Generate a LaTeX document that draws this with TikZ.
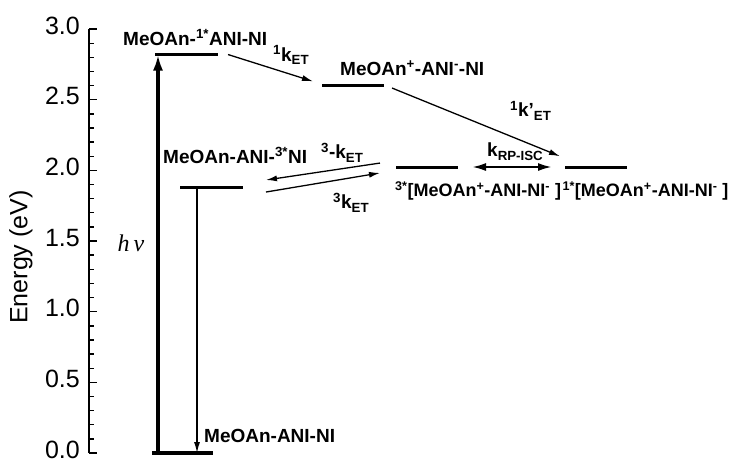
\documentclass[tikz,border=0pt]{standalone}
\usepackage{fontspec}
\setmainfont{Liberation Sans}
\newfontfamily\hvfont{Liberation Serif}
\usetikzlibrary{arrows.meta}
\usetikzlibrary{positioning}

\tikzset{
  level/.style={line width=3.2pt},
  rate/.style={line width=1.3pt, -{Latex[length=11pt,width=6pt]}},
  lbl/.style={font=\fontsize{19}{22}\selectfont\bfseries, inner sep=0pt, anchor=base west},
  rplbl/.style={lbl, font=\fontsize{18}{22}\selectfont\bfseries},
  ticklbl/.style={font=\fontsize{25}{30}\selectfont, inner sep=0pt, anchor=east, yshift=3.5pt}
}

\begin{document}
\begin{tikzpicture}[x=1pt, y=141.3pt]
    \useasboundingbox (0,-0.057) rectangle (736,3.206);

    % Energy axis with ticks
    \draw[line width=1.8pt] (89,0) -- (89,3);
    \foreach \i in {0,...,30}
        \draw[line width=1.4pt] (89,\i/10) -- ++(5,0);
    \foreach \i in {0,...,6}
        \draw[line width=1.4pt] (89,\i/2) -- ++(8,0);
    \foreach \v in {0.0,0.5,1.0,1.5,2.0,2.5,3.0}
        \node[ticklbl] at (80,\v) {\v};
    \node[rotate=90, font=\fontsize{25}{30}\selectfont] (ylab) at (21,1.387) {Energy (eV)};

    % Levels
    \coordinate (gnd-l) at (152,0);    \coordinate (gnd-r) at (213,0);
    \coordinate (s1-l) at (155,2.82);  \coordinate (s1-r) at (218,2.82);
    \coordinate (ct-l) at (322,2.60);  \coordinate (ct-r) at (384,2.60);
    \coordinate (t-l) at (180,1.88);   \coordinate (t-r) at (243,1.88);
    \coordinate (rp3-l) at (396,2.02); \coordinate (rp3-r) at (458,2.02);
    \coordinate (rp1-l) at (565,2.02); \coordinate (rp1-r) at (627,2.02);
    \foreach \s in {gnd,s1,ct,t,rp3,rp1}
        \draw[level] (\s-l) -- (\s-r);

    % Excitation
    \coordinate (hv-bot) at (158,0);
    \coordinate (hv-top) at (158,2.82);
    \draw[line width=3.2pt, -{Latex[length=16pt,width=10pt]}] (hv-bot) -- (hv-top);
    \node[font=\fontsize{24}{28}\selectfont\hvfont\itshape] (hv) at (131,1.486) {h\,ν};

    % Triplet decay to ground
    \coordinate (dec-top) at (197,1.88);
    \coordinate (dec-bot) at (197,0);
    \draw[rate] (dec-top) -- (dec-bot);

    % Charge separation
    \coordinate (et1-a) at (228,2.82);  \coordinate (et1-b) at (313,2.63);
    \draw[rate] (et1-a) -- (et1-b);
    \coordinate (et2-a) at (392,2.583); \coordinate (et2-b) at (560,2.10);
    \draw[rate] (et2-a) -- (et2-b);

    % Triplet recombination and its back reaction
    \coordinate (bk-a) at (380,2.052);  \coordinate (bk-b) at (266,1.932);
    \draw[rate] (bk-a) -- (bk-b);
    \coordinate (fw-a) at (266,1.847);  \coordinate (fw-b) at (380,1.982);
    \draw[rate] (fw-a) -- (fw-b);

    % Radical pair intersystem crossing
    \coordinate (isc-l) at (472,2.024); \coordinate (isc-r) at (552,2.024);
    \draw[line width=2.2pt, {Latex[length=14pt,width=8pt]}-{Latex[length=14pt,width=8pt]}] (isc-l) -- (isc-r);

    % Labels
    \node[lbl] (s1-txt) at (123,2.887) {MeOAn-\textsuperscript{1*}ANI-NI};
    \node[lbl] (ct-txt) at (340,2.675) {MeOAn\textsuperscript{+}-ANI\textsuperscript{-}-NI};
    \node[lbl] (t-txt) at (163,2.052) {MeOAn-ANI-\textsuperscript{3*}NI};
    \node[lbl] (gnd-txt) at (204,0.071) {MeOAn-ANI-NI};
    \node[rplbl] (rp3-txt) at (395,1.812) {\textsuperscript{3*}[MeOAn\textsuperscript{+}-ANI-NI\textsuperscript{-} ]};
    \node[rplbl] (rp1-txt) at ([xshift=1pt]rp3-txt.base east) {\textsuperscript{1*}[MeOAn\textsuperscript{+}-ANI-NI\textsuperscript{-} ]};

    \node[lbl] (et1-txt) at (273,2.774) {\textsuperscript{1}k\textsubscript{ET}};
    \node[lbl] (et2-txt) at (510,2.378) {\textsuperscript{1}k'\textsubscript{ET}};
    \node[lbl] (isc-txt) at (487,2.095) {k\textsubscript{RP-ISC}};
    \node[lbl] (bk-txt) at (321,2.081) {\textsuperscript{3}-k\textsubscript{ET}};
    \node[lbl] (fw-txt) at (333,1.727) {\textsuperscript{3}k\textsubscript{ET}};
\end{tikzpicture}
\end{document}
